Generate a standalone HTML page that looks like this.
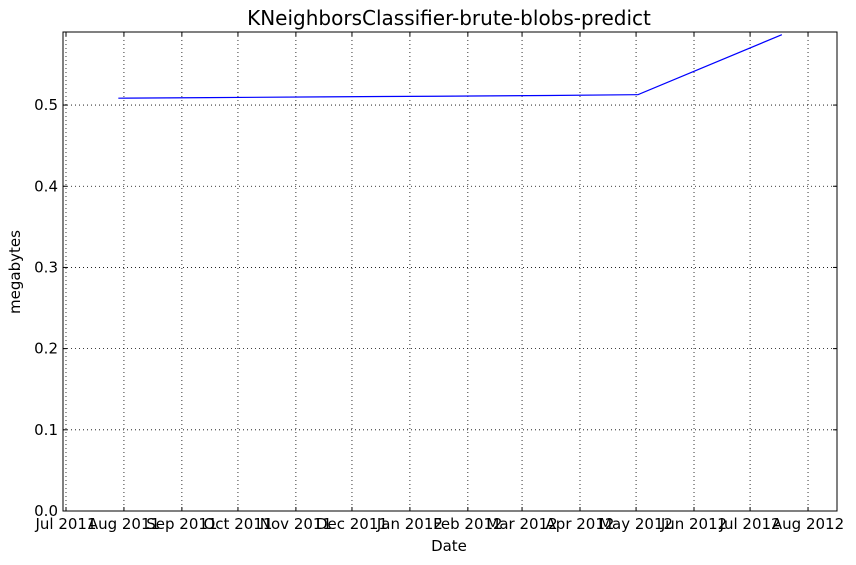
<!DOCTYPE html>
<html><head><meta charset="utf-8"><style>
body{margin:0;background:#fff;font-family:"DejaVu Sans","Liberation Sans",sans-serif}
</style></head><body>
<svg id="chart" width="856" height="561" xmlns="http://www.w3.org/2000/svg" font-family="DejaVu Sans, Liberation Sans, sans-serif">
<rect width="856" height="561" fill="#fff"/>
<text x="449" y="25" text-anchor="middle" font-size="20">KNeighborsClassifier-brute-blobs-predict</text>
<text x="449" y="551" text-anchor="middle" font-size="15">Date</text>
<text transform="translate(20,272) rotate(-90)" text-anchor="middle" font-size="15">megabytes</text>
<g id="grid"></g><g id="series"></g><g id="axes"></g>
</svg>
<script>
const dates = ["2011-07-29","2011-09-15","2011-11-15","2012-01-15","2012-03-15","2012-05-02","2012-07-18"];
const values = [0.5085,0.5092,0.5101,0.5109,0.5118,0.5128,0.5867];
const xTickDates = ["2011-07-01","2011-08-01","2011-09-01","2011-10-01","2011-11-01","2011-12-01","2012-01-01","2012-02-01","2012-03-01","2012-04-01","2012-05-01","2012-06-01","2012-07-01","2012-08-01"];
const xTickLabels = ["Jul 2011","Aug 2011","Sep 2011","Oct 2011","Nov 2011","Dec 2011","Jan 2012","Feb 2012","Mar 2012","Apr 2012","May 2012","Jun 2012","Jul 2012","Aug 2012"];
const yTicks = [0,0.1,0.2,0.3,0.4,0.5];
const yTickLabels = ["0.0","0.1","0.2","0.3","0.4","0.5"];

const L=63,R=837,T=32,B=511;
const day=86400000;
const x0=Date.parse("2011-07-01")-1.6*day, x1=Date.parse("2012-08-01")+15.5*day;
const yMax=0.59;
function x(d){return L+(Date.parse(d)-x0)/(x1-x0)*(R-L);}
function y(v){return B-v/yMax*(B-T);}
const NS="http://www.w3.org/2000/svg";
function mk(tag,attrs,parent){const e=document.createElementNS(NS,tag);for(const k in attrs)e.setAttribute(k,attrs[k]);parent.appendChild(e);return e;}
const grid=document.getElementById('grid'),axes=document.getElementById('axes'),series=document.getElementById('series');
xTickDates.forEach((d,i)=>{
  const px=x(d);
  if(px>L+1&&px<R-1){
    const g=mk('line',{x1:px,x2:px,y1:T,y2:B,stroke:'#000','stroke-width':0.8,'stroke-dasharray':'1,3'},grid);
    
    
  }
  mk('line',{x1:px,x2:px,y1:B,y2:B-4,stroke:'#000'},axes);
  mk('line',{x1:px,x2:px,y1:T,y2:T+4,stroke:'#000'},axes);
  const t=mk('text',{x:px,y:B+18,'text-anchor':'middle','font-size':15},axes);
  t.textContent=xTickLabels[i];
  
  
});
yTicks.forEach((v,i)=>{
  const py=y(v);
  if(py>T+1&&py<B-1){
    const g=mk('line',{x1:L,x2:R,y1:py,y2:py,stroke:'#000','stroke-width':0.8,'stroke-dasharray':'1,3'},grid);
    
    
  }
  mk('line',{x1:L,x2:L+4,y1:py,y2:py,stroke:'#000'},axes);
  mk('line',{x1:R,x2:R-4,y1:py,y2:py,stroke:'#000'},axes);
  const t=mk('text',{x:L-5,y:py+5,'text-anchor':'end','font-size':15},axes);
  t.textContent=yTickLabels[i];
  
  
});
const frame=mk('rect',{x:L,y:T,width:R-L,height:B-T,fill:'none',stroke:'#000','stroke-width':1},axes);


const pl=mk('polyline',{points:dates.map((d,i)=>x(d)+','+y(values[i])).join(' '),fill:'none',stroke:'#0000ff','stroke-width':1.2},series);


</script>
</body></html>
